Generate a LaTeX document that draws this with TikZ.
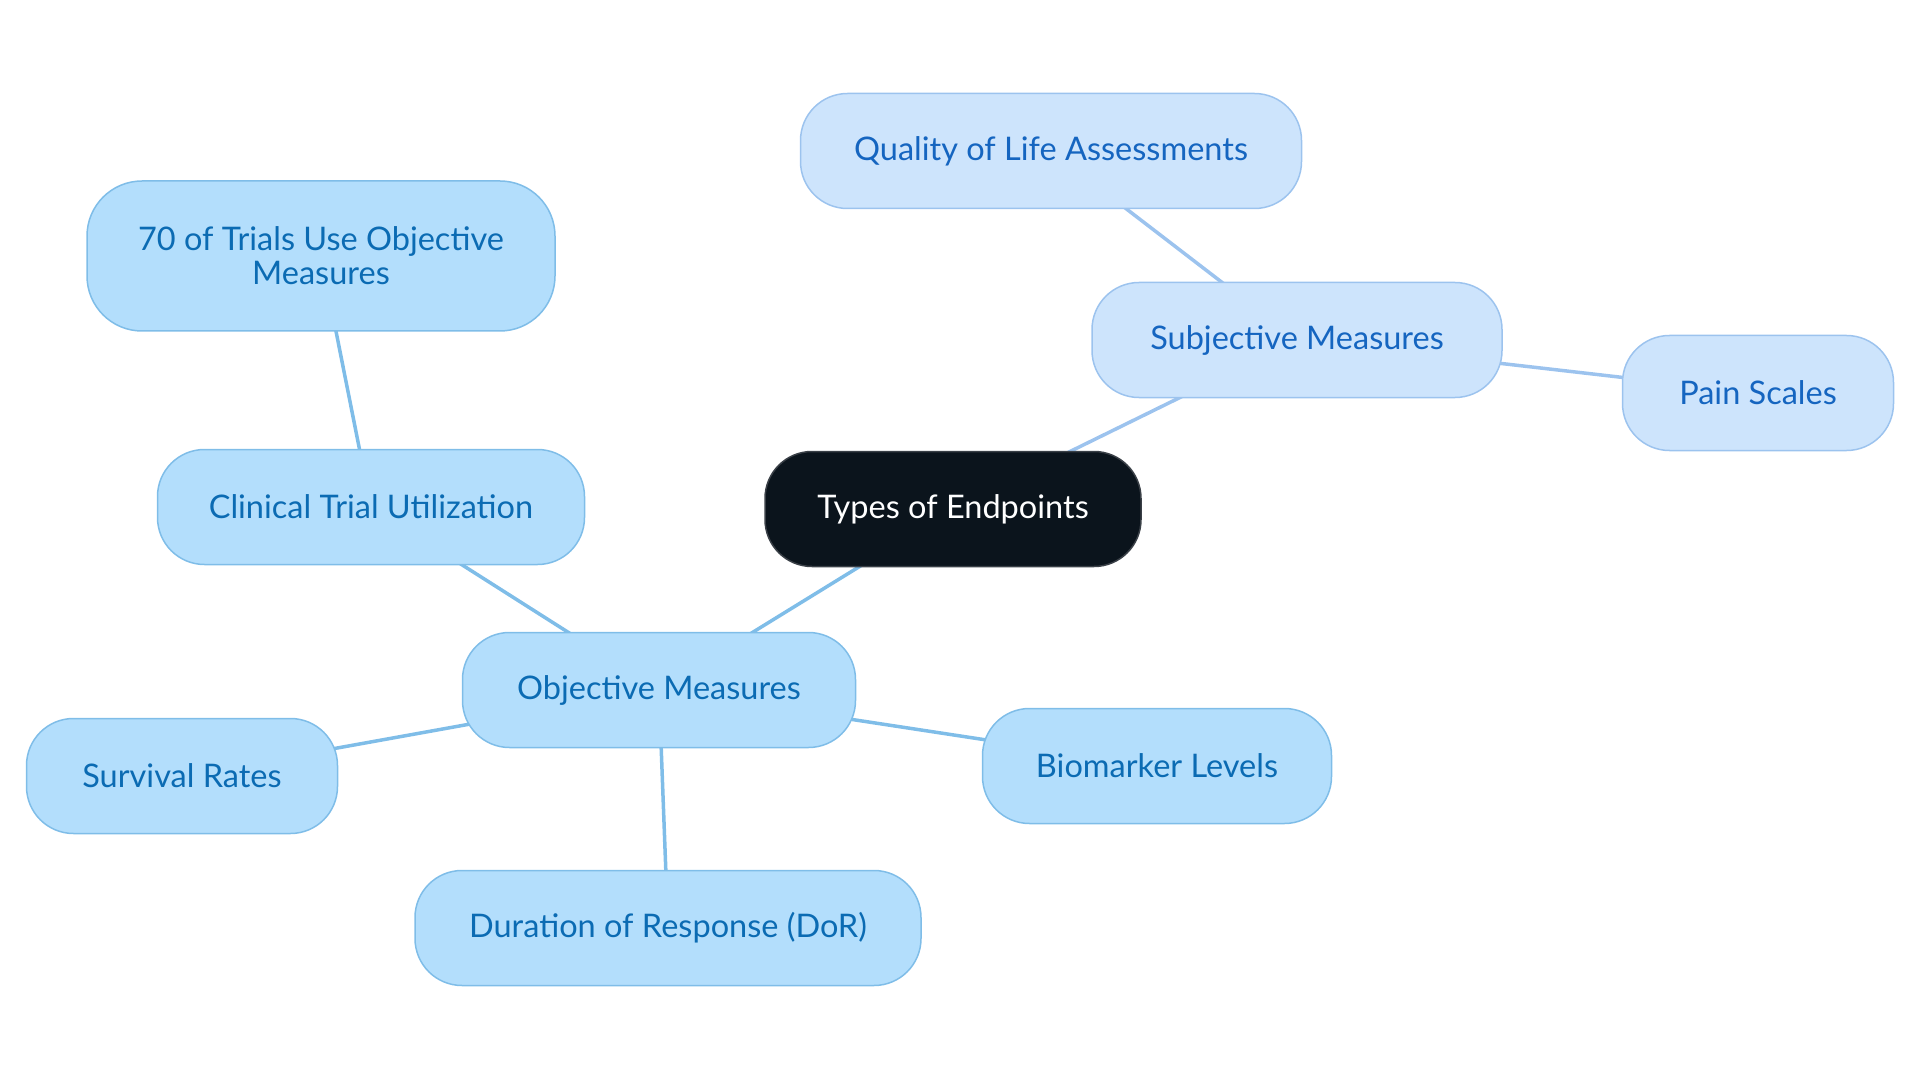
\documentclass[tikz,border=0pt]{standalone}
\usepackage{fontspec}
\setmainfont{Lato}
\usetikzlibrary{backgrounds}
\definecolor{objfill}{HTML}{B3DEFC}
\definecolor{objdraw}{HTML}{7FBDE8}
\definecolor{objtext}{HTML}{0B6BB3}
\definecolor{subfill}{HTML}{CDE4FC}
\definecolor{subdraw}{HTML}{9CC3EE}
\definecolor{subtext}{HTML}{1565C0}
\definecolor{rootfill}{HTML}{0B141C}
\definecolor{rootdraw}{HTML}{3A4047}
\tikzset{
  base/.style={rounded corners=47pt, line width=1.5pt, align=center, font=\fontsize{32.5}{34}\selectfont, inner sep=0pt},
  objbox/.style={base, fill=objfill, draw=objdraw, text=objtext},
  subbox/.style={base, fill=subfill, draw=subdraw, text=subtext},
  rootbox/.style={base, fill=rootfill, draw=rootdraw, text=white},
  objedge/.style={draw=objdraw, line width=3.5pt},
  subedge/.style={draw=subdraw, line width=3.5pt}
}
\begin{document}
\begin{tikzpicture}[x=1pt,y=-1pt]
\useasboundingbox (0,0) rectangle (1920,1083);
\node[rootbox, minimum width=376pt, minimum height=115pt] (root) at (953,509) {Types of Endpoints};
\node[subbox, minimum width=410pt, minimum height=115pt] (subj) at (1297,340) {Subjective Measures};
\node[subbox, minimum width=501pt, minimum height=115pt] (qol) at (1051,151) {Quality of Life Assessments};
\node[subbox, minimum width=271pt, minimum height=115pt] (pain) at (1758,393) {Pain Scales};
\node[objbox, minimum width=393pt, minimum height=115pt] (obj) at (659,690) {Objective Measures};
\node[objbox, minimum width=427pt, minimum height=115pt] (ctu) at (371,507) {Clinical Trial Utilization};
\node[objbox, minimum width=468pt, minimum height=150pt, rounded corners=55pt] (seventy) at (321,256) {70 of Trials Use Objective\\Measures};
\node[objbox, minimum width=311pt, minimum height=115pt] (surv) at (182,776) {Survival Rates};
\node[objbox, minimum width=349pt, minimum height=115pt] (bio) at (1157,766) {Biomarker Levels};
\node[objbox, minimum width=506pt, minimum height=115pt] (dor) at (668,928) {Duration of Response (DoR)};
\begin{scope}[on background layer]
\draw[subedge] (root.center) -- (subj.center);
\draw[subedge] (subj.center) -- (qol.center);
\draw[subedge] (subj.center) -- (pain.center);
\draw[objedge] (root.center) -- (obj.center);
\draw[objedge] (obj.center) -- (ctu.center);
\draw[objedge] (ctu.center) -- (seventy.center);
\draw[objedge] (obj.center) -- (surv.center);
\draw[objedge] (obj.center) -- (bio.center);
\draw[objedge] (obj.center) -- (dor.center);
\end{scope}
\end{tikzpicture}
\end{document}
